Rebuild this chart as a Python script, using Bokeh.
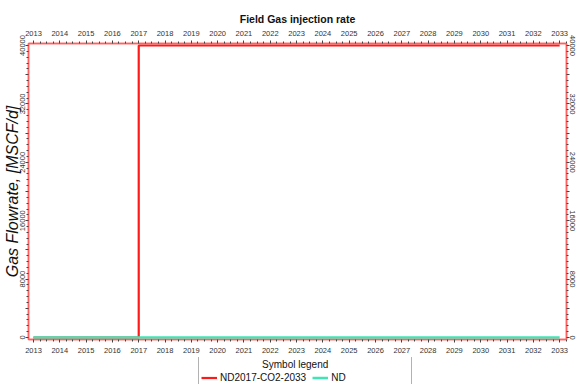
import math
from bokeh.plotting import figure
from bokeh.layouts import column
from bokeh.models import Range1d, LinearAxis, FixedTicker, Legend, LegendItem
from bokeh.embed import file_html
from bokeh.resources import INLINE

# ---- data ----
years_tick = list(range(2013, 2034))
red_years = [2013, 2017, 2033]
red_rate = [0, 40000, 40000]          # ND2017-CO2-2033 (step, after)
nd_years = [2013, 2033]
nd_rate = [0, 0]                      # ND
y_major = list(range(0, 40001, 4000))
y_labelled = [0, 8000, 16000, 24000, 32000, 40000]
series_names = ["ND2017-CO2-2033", "ND"]

FONT = "Liberation Sans"
AXC = "#ff6060"
RED = "#ff1a1a"
CYAN = "#3fe6b4"

p = figure(width=577, height=357, output_backend="svg", toolbar_location=None,
           x_range=Range1d(2012.81, 2033.26), y_range=Range1d(-274, 40274),
           x_axis_location=None, y_axis_location=None,
           min_border_left=10, min_border_right=4, min_border_top=43, min_border_bottom=18)
p.xgrid.visible = False
p.ygrid.visible = False
p.outline_line_color = AXC
p.outline_line_width = 1.5
p.background_fill_color = "white"
p.border_fill_color = "white"

p.title.text = "Field Gas injection rate"
p.title.align = "center"
p.title.text_font = FONT
p.title.text_font_size = "10.5px"
p.title.text_font_style = "bold"
p.title.text_color = "#111111"
p.title.standoff = 6
p.title.offset = 0

ylab = {float(v): (f"{v}" if v in y_labelled else "") for v in y_major}

def style_common(ax):
    ax.major_label_text_font = FONT
    ax.major_label_text_font_size = "7.5px"
    ax.major_label_text_color = "#333333"
    ax.major_tick_out = 3
    ax.major_tick_in = 0
    ax.minor_tick_out = 2
    ax.minor_tick_in = 0
    ax.major_tick_line_color = "#444444"
    ax.minor_tick_line_color = "#444444"
    ax.axis_line_color = AXC
    ax.axis_line_width = 1.5

def style_x(ax):
    ax.ticker = FixedTicker(ticks=years_tick,
                            minor_ticks=[y + q / 4 for y in range(2012, 2034) for q in range(1, 4)])
    style_common(ax)
    ax.major_label_standoff = 5

def style_y(ax):
    ax.ticker = FixedTicker(ticks=y_major,
                            minor_ticks=[v + k * 800 for v in range(0, 40000, 4000) for k in range(1, 5)])
    ax.major_label_overrides = ylab
    style_common(ax)
    ax.major_label_standoff = 1

xb = LinearAxis(); style_x(xb); p.add_layout(xb, "below")
xt = LinearAxis(); style_x(xt); xt.major_label_standoff = 5; p.add_layout(xt, "above")
yl = LinearAxis(); style_y(yl)
yl.major_label_orientation = "vertical"
yl.axis_label = "Gas Flowrate, [MSCF/d]"
yl.axis_label_text_font = FONT
yl.axis_label_text_font_style = "italic"
yl.axis_label_text_font_size = "16px"
yl.axis_label_text_color = "#111111"
yl.axis_label_standoff = -3
yl.major_label_standoff = 0
p.add_layout(yl, "left")
yr = LinearAxis(); style_y(yr)
yr.major_label_orientation = "parallel"
yr.major_label_standoff = 0
p.add_layout(yr, "right")

p.step(red_years, red_rate, mode="after", line_color=RED, line_width=2.2)
p.line(nd_years, nd_rate, line_color=CYAN, line_width=2.5)

# legend strip below the chart (its renderers lie outside its own view)
q = figure(width=577, height=27, output_backend="svg", toolbar_location=None,
           x_range=Range1d(0, 1), y_range=Range1d(0, 1),
           x_axis_location=None, y_axis_location=None, min_border=0)
q.xgrid.visible = False
q.ygrid.visible = False
q.outline_line_color = None
q.border_fill_color = "white"
lr = q.step(red_years, red_rate, mode="after", line_color=RED, line_width=2.2)
ln = q.line(nd_years, nd_rate, line_color=CYAN, line_width=2.5)

NB = "\u00a0"
leg = Legend(items=[LegendItem(label=series_names[0], renderers=[lr]),
                    LegendItem(label=series_names[1], renderers=[ln])],
             orientation="horizontal", location=(170, -2),
             title=NB * 22 + "Symbol legend")
leg.title_text_font = FONT
leg.title_text_font_size = "10px"
leg.title_text_font_style = "normal"
leg.title_text_color = "#111111"
leg.label_text_font = FONT
leg.label_text_font_size = "10px"
leg.label_text_color = "#111111"
leg.border_line_color = "#666666"
leg.border_line_width = 1.5
leg.padding = 2
leg.title_standoff = 2
leg.label_height = 11
leg.glyph_height = 11
leg.glyph_width = 16
leg.label_width = 78
leg.label_standoff = 3
leg.spacing = 6
leg.margin = 0
leg.background_fill_alpha = 1
q.add_layout(leg, "center")

layout = column(p, q, spacing=0)
open("out.html", "w").write(file_html(layout, INLINE))
